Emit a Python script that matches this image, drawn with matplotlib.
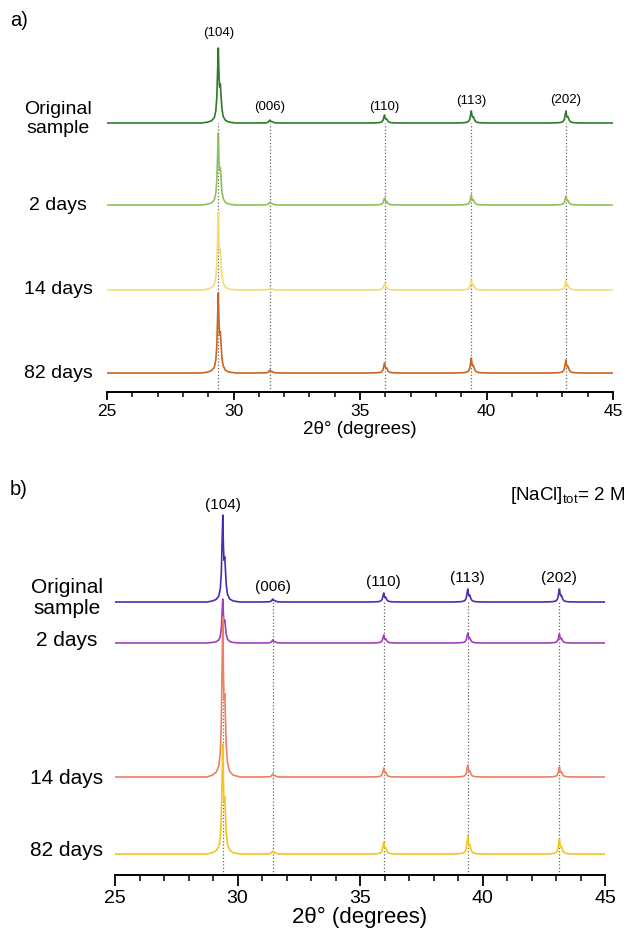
import numpy as np
import matplotlib
matplotlib.use('Agg')
import matplotlib.pyplot as plt
from matplotlib import transforms

plt.rcParams['font.family'] = ['Liberation Sans', 'DejaVu Sans']
plt.rcParams['mathtext.fontset'] = 'custom'
plt.rcParams['mathtext.rm'] = 'Liberation Sans'

# calcite reflections (2theta, deg)
hkl = ['(104)', '(006)', '(110)', '(113)', '(202)']
peak_pos = [29.40, 31.44, 35.97, 39.40, 43.14]

samples = ['Original\nsample', '2 days', '14 days', '82 days']

# peak heights (arb. units), one row per sample
heights_a = [[75, 3, 8, 12, 12],
             [72, 3, 7, 10, 9],
             [78, 2, 6, 10, 9],
             [80, 3, 10, 15, 13]]
heights_b = [[87, 3, 9, 13, 13],
             [44, 3, 8, 10, 9],
             [160, 3, 9, 12, 10],
             [110, 3, 12, 18, 15]]

# vertical stacking offsets
offsets_a = [269, 187, 102, 19]
offsets_b = [273, 232, 98, 21]

colors_a = ['#2c7a2c', '#8fc157', '#f4dd72', '#c8661f']
colors_b = ['#4f2ab0', '#a23fb8', '#ec8060', '#f3c61c']

# shape of one reflection (Ka1 + Ka2 shoulder), traced from the (104) peak
shape_dx = [-0.65, -0.42, -0.27, -0.16, -0.10, -0.06, -0.03, 0.0, 0.025,
            0.05, 0.08, 0.11, 0.14, 0.19, 0.28, 0.42, 0.70]
shape_rel = [0.0, 0.012, 0.03, 0.07, 0.16, 0.34, 0.68, 1.0, 0.64,
             0.48, 0.52, 0.36, 0.2, 0.09, 0.035, 0.012, 0.0]


def pattern(h, off):
    xs, ys = [25.0], [off]
    for p, hh in zip(peak_pos, h):
        for dx, r in zip(shape_dx, shape_rel):
            xs.append(p + dx)
            ys.append(off + hh * r)
    xs.append(45.0)
    ys.append(off)
    return xs, ys


W, H = 636, 934
fig = plt.figure(figsize=(W / 100, H / 100), dpi=100)


def panel(left, right, top, bottom, heights, offsets, colors, lbl_y, lab_x,
          lab_dy, fs_lab, fs_tick, fs_hkl, tick_len):
    ax = fig.add_axes([left / W, 1 - bottom / H, (right - left) / W,
                       (bottom - top) / H])
    ax.set_xlim(25, 45)
    ax.set_ylim(0, bottom - top)
    for s in ['top', 'right', 'left']:
        ax.spines[s].set_visible(False)
    ax.spines['bottom'].set_linewidth(1.4)
    ax.set_yticks([])
    ax.set_xticks(np.arange(25, 46, 5))
    ax.set_xticks(np.arange(25, 46, 1), minor=True)
    ax.tick_params(axis='x', which='major', direction='out', length=tick_len,
                   width=1.3, labelsize=fs_tick, pad=3)
    ax.tick_params(axis='x', which='minor', direction='out',
                   length=tick_len * 0.55, width=1.1)
    ax.vlines(peak_pos, 0, offsets[0], colors='#666666', linestyles=':',
              linewidth=0.9, zorder=1)
    for i in range(len(samples) - 1, -1, -1):
        xs, ys = pattern(heights[i], offsets[i])
        ax.plot(xs, ys, color=colors[i], lw=1.2, zorder=2 + i)
    tr = transforms.blended_transform_factory(fig.transFigure, ax.transData)
    for i, s in enumerate(samples):
        ax.text(lab_x / W, offsets[i] + lab_dy[i], s, transform=tr,
                ha='center', va='center', fontsize=fs_lab, linespacing=1.1)
    for p, t, y in zip(peak_pos, hkl, lbl_y):
        ax.text(p, y, t, ha='center', va='center', fontsize=fs_hkl)
    return ax


ax1 = panel(107, 613, 30, 392, heights_a, offsets_a, colors_a,
            [359, 285, 285, 291, 292], 58, [4, 0, 0, 0], 14, 12.5, 9.5, 6)
ax1.set_xlabel('2θ° (degrees)', fontsize=13.5, labelpad=1)

ax2 = panel(115, 605, 495, 875, heights_b, offsets_b, colors_b,
            [370, 288, 293, 297, 297], 67, [4, 3, -1, 4], 15, 14, 11, 8)
ax2.set_xlabel('2θ° (degrees)', fontsize=16, labelpad=0)

fig.text(10 / W, 1 - 20 / H, 'a)', fontsize=14.5, va='center')
fig.text(10 / W, 1 - 490 / H, 'b)', fontsize=14.5, va='center')
fig.text(625 / W, 1 - 495 / H, r'[NaCl]$_{\mathrm{tot}}$= 2 M', fontsize=13.5,
         ha='right', va='center')

fig.savefig('out.png', dpi=100)
